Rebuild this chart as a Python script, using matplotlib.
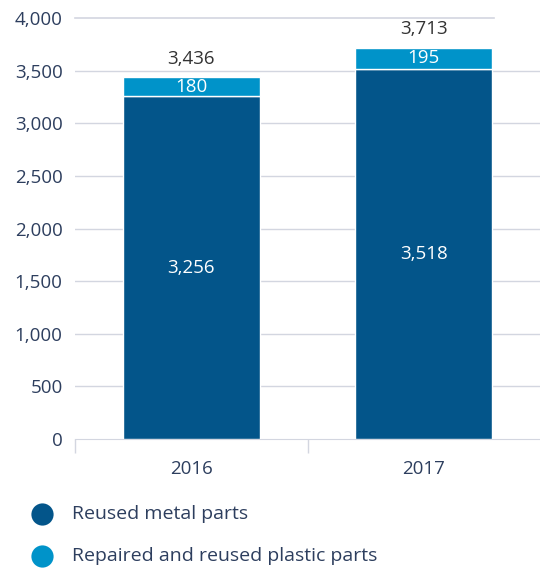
import matplotlib

matplotlib.use("Agg")
import matplotlib.pyplot as plt

plt.rcParams["font.family"] = ["Open Sans", "DejaVu Sans"]

years = ["2016", "2017"]
metal_parts = [3256, 3518]
plastic_parts = [180, 195]
totals = [3436, 3713]
series_labels = ["Reused metal parts", "Repaired and reused plastic parts"]

DARK = "#03558a"
LIGHT = "#0093c9"
TEXT = "#2d3e5e"
GRID = "#d3d6e0"

W, H = 540, 572
fig = plt.figure(figsize=(W / 100, H / 100), dpi=100)
ax = fig.add_axes([75 / W, 1 - 439 / H, 465 / W, 421 / H])

x = range(len(years))
width = 0.59
ax.bar(x, metal_parts, width=width, color=DARK, edgecolor="white", linewidth=1, zorder=3)
ax.bar(x, plastic_parts, width=width, bottom=metal_parts, color=LIGHT,
       edgecolor="white", linewidth=1, zorder=3)

for i in x:
    ax.text(i, metal_parts[i] / 2, f"{metal_parts[i]:,}", ha="center", va="center",
            color="white", fontsize=13.5, zorder=4)
    ax.text(i, metal_parts[i] + plastic_parts[i] / 2, f"{plastic_parts[i]:,}",
            ha="center", va="center", color="white", fontsize=13.5, zorder=4)
    ax.annotate(f"{totals[i]:,}", (i, totals[i]), xytext=(0, 7),
                textcoords="offset points", ha="center", va="bottom",
                color="#333333", fontsize=13.5)

ax.set_xlim(-0.5, 1.5)
ax.set_ylim(0, 4000)
yticks = list(range(0, 4001, 500))
ax.set_yticks(yticks)
ax.set_yticklabels([f"{t:,}" for t in yticks], color=TEXT, fontsize=13.5)
ax.tick_params(axis="y", length=0, pad=9)

# gridlines; the top one stops short of the right edge
for t in yticks[1:-1]:
    ax.axhline(t, color=GRID, linewidth=1, zorder=1)
ax.axhline(4000, xmax=0.9, color=GRID, linewidth=1.2, zorder=1, clip_on=False)

ax.set_xticks([-0.5, 0.5], minor=True)
ax.set_xticks(list(x))
ax.set_xticklabels(years, color=TEXT, fontsize=13.5)
ax.tick_params(axis="x", which="major", length=0, pad=15)
ax.tick_params(axis="x", which="minor", length=10, color=GRID, width=1)

for side in ["top", "right", "left"]:
    ax.spines[side].set_visible(False)
ax.spines["bottom"].set_color(GRID)

# legend drawn in pixel coordinates below the plot
leg = fig.add_axes([0, 0, 1, 1], facecolor="none")
leg.set_xlim(0, W)
leg.set_ylim(H, 0)
leg.axis("off")
for row, (label, color) in enumerate(zip(series_labels, [DARK, LIGHT])):
    y = 514 + row * 42
    leg.scatter([42], [y], s=256, color=color, linewidths=0)
    leg.text(72, y, label, va="center", ha="left", color=TEXT, fontsize=14)

fig.savefig("out.png", dpi=100)
